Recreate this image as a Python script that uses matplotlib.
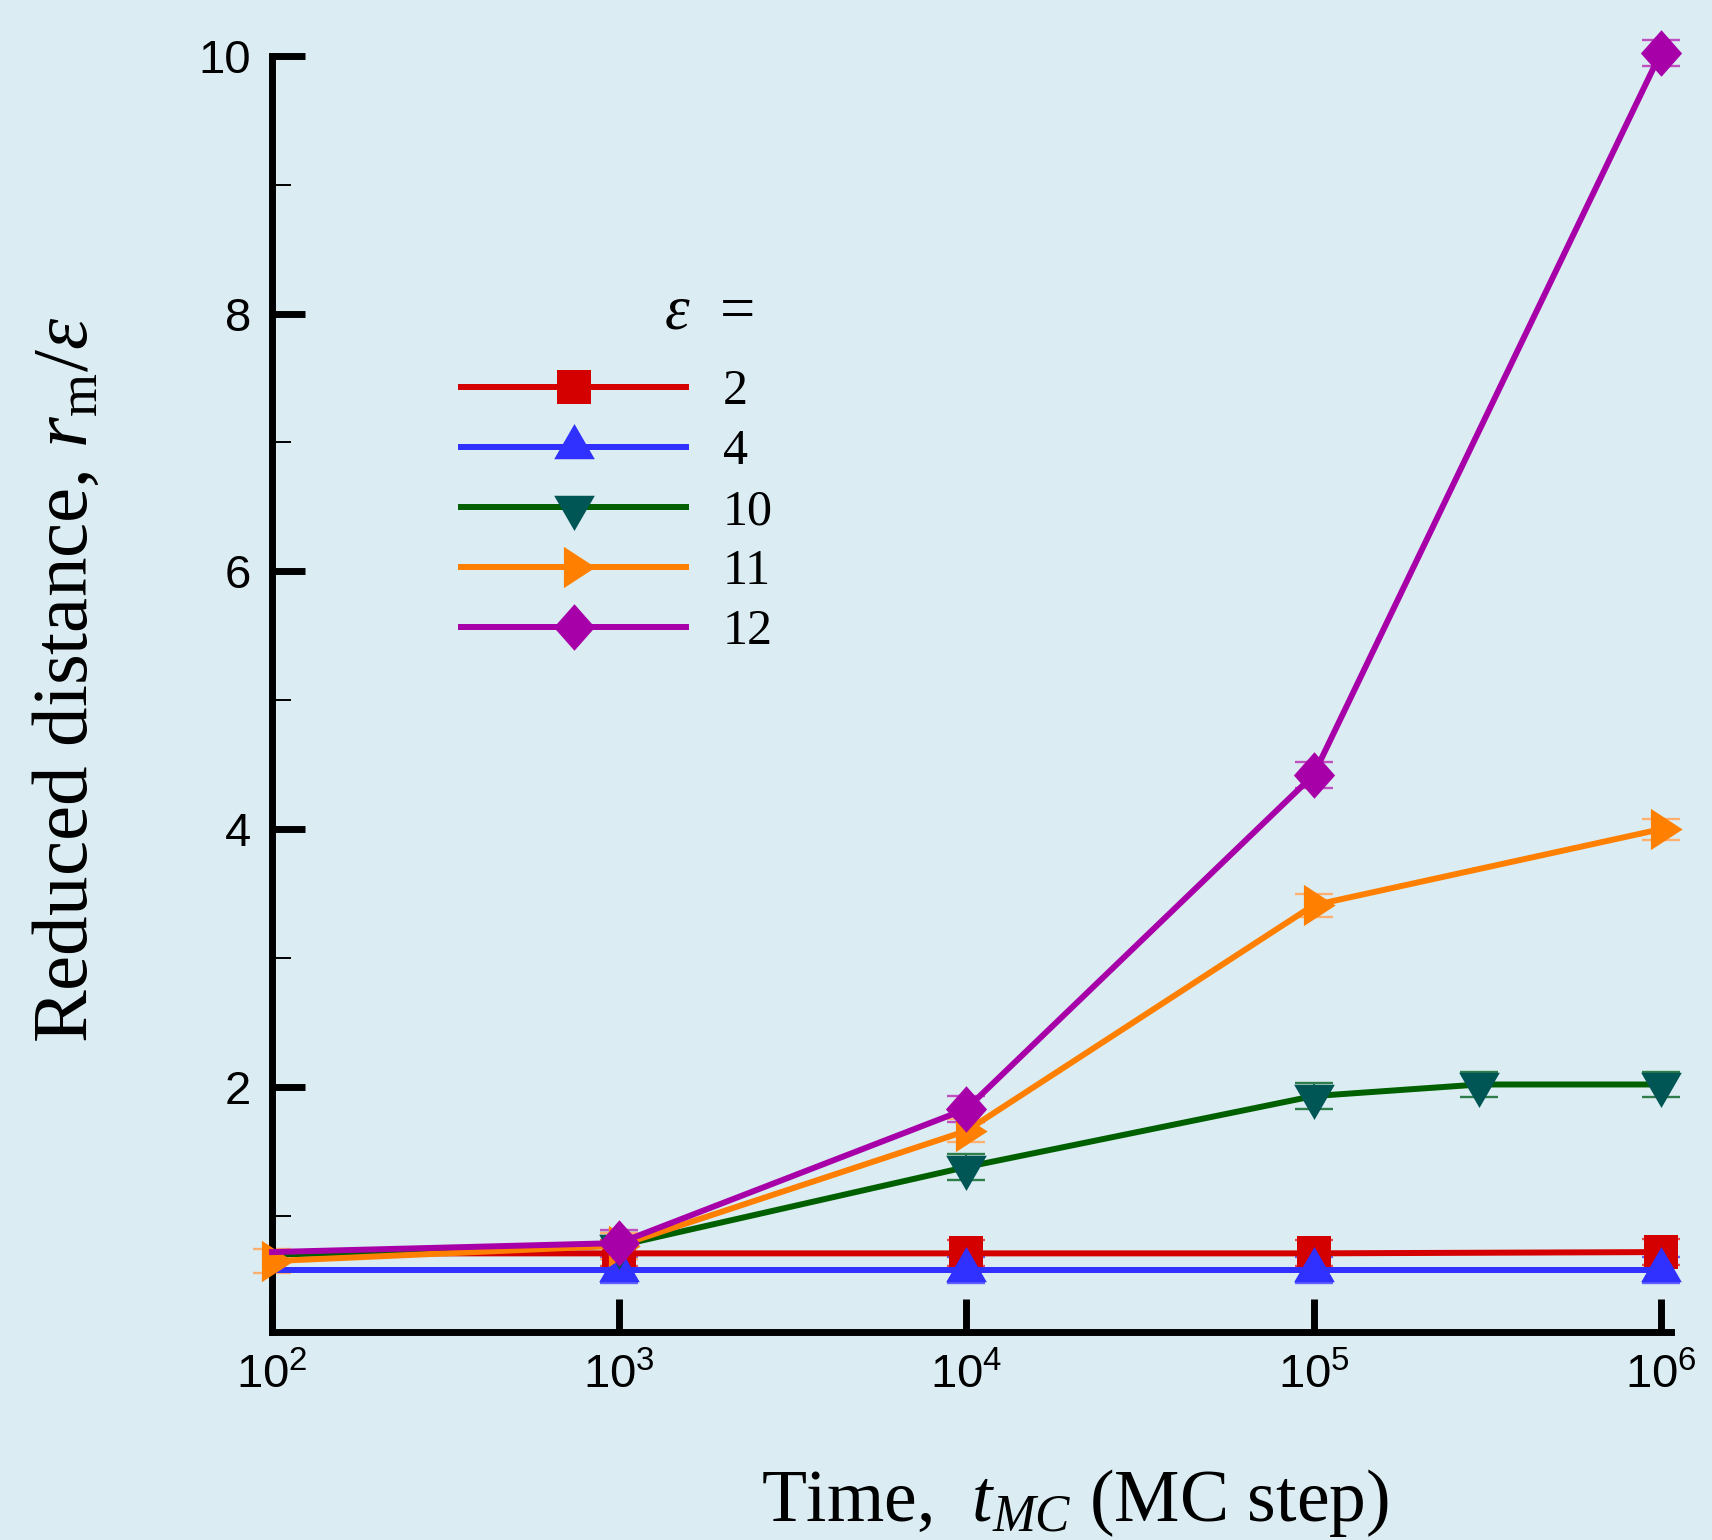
import numpy as np
import matplotlib
matplotlib.use("Agg")
import matplotlib.pyplot as plt
from matplotlib.path import Path
from matplotlib.ticker import NullLocator

# ---------------- data ----------------
t_mc = [1e2, 1e3, 1e4, 1e5, 1e6]
t_mc_eps10 = [1e2, 1e3, 1e4, 1e5, 3e5, 1e6]

eps_labels = ["2", "4", "10", "11", "12"]

r_eps2 = [0.71, 0.71, 0.71, 0.71, 0.72]
r_eps4 = [0.58, 0.58, 0.58, 0.58, 0.58]
r_eps10 = [0.70, 0.77, 1.38, 1.93, 2.02, 2.02]
r_eps11 = [0.65, 0.77, 1.66, 3.41, 4.00]
r_eps12 = [0.72, 0.79, 1.83, 4.42, 10.02]

err_eps2 = [0.10, 0.10, 0.10, 0.10, 0.10]
err_eps4 = [0.10, 0.10, 0.10, 0.10, 0.10]
err_eps10 = [0.10, 0.10, 0.10, 0.10, 0.10, 0.10]
err_eps11 = [0.09, 0.10, 0.09, 0.09, 0.08]
err_eps12 = [0.10, 0.10, 0.10, 0.10, 0.10]

x_ticks = [1e2, 1e3, 1e4, 1e5, 1e6]
x_tick_labels = [r"$\mathsf{10^{2}}$", r"$\mathsf{10^{3}}$", r"$\mathsf{10^{4}}$",
                 r"$\mathsf{10^{5}}$", r"$\mathsf{10^{6}}$"]
y_ticks = [2, 4, 6, 8, 10]
y_tick_labels = ["2", "4", "6", "8", "10"]
y_minor_ticks = [1, 3, 5, 7, 9]

# ---------------- style ----------------
plt.rcParams["mathtext.fontset"] = "custom"
plt.rcParams["mathtext.rm"] = "Liberation Serif"
plt.rcParams["mathtext.it"] = "Liberation Serif:italic"
plt.rcParams["mathtext.bf"] = "Liberation Serif:bold"
plt.rcParams["mathtext.sf"] = "Liberation Sans"
plt.rcParams["font.family"] = ["Liberation Sans", "DejaVu Sans"]

bg = "#DBEDF3"

tri_up = Path([(0, 1), (-0.866, -0.5), (0.866, -0.5), (0, 1)],
              [Path.MOVETO, Path.LINETO, Path.LINETO, Path.CLOSEPOLY])
tri_down = Path([(0, -1), (-0.866, 0.5), (0.866, 0.5), (0, -1)],
                [Path.MOVETO, Path.LINETO, Path.LINETO, Path.CLOSEPOLY])
tri_right = Path([(1, 0), (-0.5, 0.977), (-0.5, -0.977), (1, 0)],
                 [Path.MOVETO, Path.LINETO, Path.LINETO, Path.CLOSEPOLY])
diamond = Path([(0, 1), (0.885, 0), (0, -1), (-0.885, 0), (0, 1)],
               [Path.MOVETO, Path.LINETO, Path.LINETO, Path.LINETO, Path.CLOSEPOLY])

series = [
    # x, y, err, line colour, marker colour, err colour, marker, ms, first marked index
    (t_mc, r_eps2, err_eps2, "#D40000", "#D40000", "#E05050", "s", 25, 1),
    (t_mc, r_eps4, err_eps4, "#3030FF", "#3030FF", "#6060FF", tri_up, 33.8, 1),
    (t_mc_eps10, r_eps10, err_eps10, "#006000", "#005555", "#2E7D4A", tri_down, 33.8, 1),
    (t_mc, r_eps11, err_eps11, "#FF8000", "#FF8000", "#FFB070", tri_right, 30.5, 0),
    (t_mc, r_eps12, err_eps12, "#A800A8", "#A800A8", "#C050C0", diamond, 33.5, 1),
]

fig = plt.figure(figsize=(17.12, 15.40), dpi=100, facecolor=bg)
ax = fig.add_axes([0.1589, 0.13506, 0.8174, 0.82877], facecolor=bg)
ax.set_xscale("log")
ax.set_xlim(1e2, 10 ** 6.031)
ax.set_ylim(0.1, 10)

handles = []
for i, (x, y, e, lc, mc, ec, mk, ms, s) in enumerate(series):
    ax.errorbar(x[s:], y[s:], yerr=e[s:], fmt="none", ecolor=ec, elinewidth=1.5,
                capsize=13.7, capthick=1.7, zorder=2, clip_on=False)
    ln, = ax.plot(x, y, color=lc, lw=4.3, marker=mk, ms=ms, mfc=mc, mec=mc, mew=0,
                  markevery=slice(s, None), clip_on=False, zorder=3 + i,
                  label=eps_labels[i])
    handles.append(ln)

for side in ("top", "right"):
    ax.spines[side].set_visible(False)
for side in ("left", "bottom"):
    ax.spines[side].set_linewidth(5)
    ax.spines[side].set_color("black")
    ax.spines[side].set_capstyle("projecting")

ax.set_xticks(x_ticks)
ax.set_xticklabels(x_tick_labels)
ax.xaxis.set_minor_locator(NullLocator())
ax.set_yticks(y_ticks)
ax.set_yticklabels(y_tick_labels, family="Liberation Sans")
ax.set_yticks(y_minor_ticks, minor=True)
ax.tick_params(axis="both", which="major", direction="in", length=24, width=5,
               labelsize=34, pad=15, color="black")
ax.tick_params(axis="y", which="minor", direction="in", length=14, width=1.4)

leg = ax.legend(handles=handles, loc="upper left", bbox_to_anchor=(0.2693, 0.7604),
                bbox_transform=fig.transFigure, frameon=False,
                prop={"family": "Liberation Serif", "size": 36},
                handlelength=4.5, handletextpad=0.74, labelspacing=0.268,
                borderpad=0, borderaxespad=0, numpoints=1)

fig.text(0.3879, 0.787, r"$\varepsilon$  =", fontsize=45, family="Liberation Serif",
         ha="left", va="baseline")

fig.text(0.0508, 0.5585, r"Reduced distance, $r_{\mathrm{m}}/\varepsilon$",
         rotation=90, ha="center", va="baseline", rotation_mode="anchor",
         fontsize=57, family="Liberation Serif")
fig.text(0.628, 0.01253, r"Time,  $t_{MC}$ (MC step)", ha="center", va="baseline",
         fontsize=53, family="Liberation Serif")

fig.savefig("out.png", dpi=100, facecolor=bg)
